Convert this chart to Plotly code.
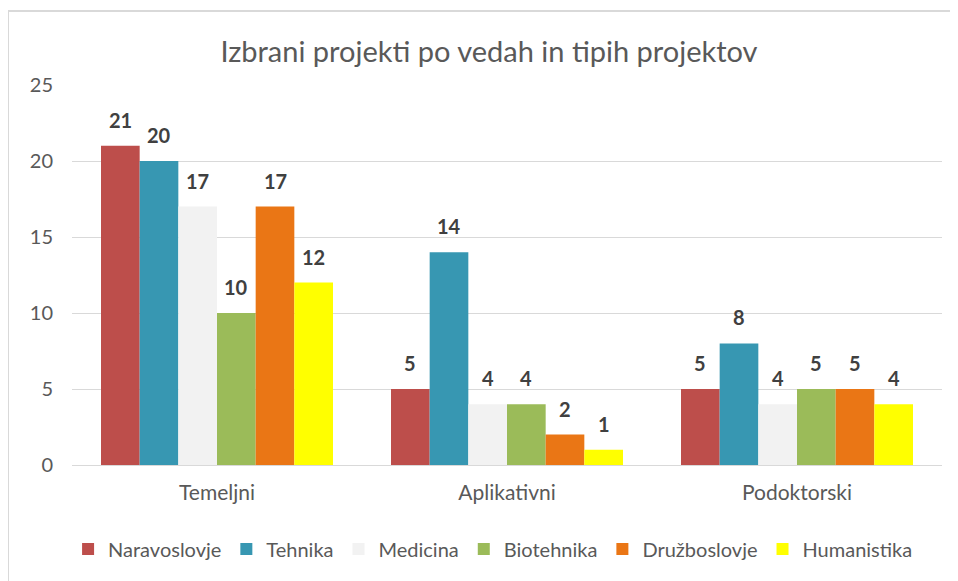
import plotly.graph_objects as go

categories = ["Temeljni", "Aplikativni", "Podoktorski"]
series_names = ["Naravoslovje", "Tehnika", "Medicina", "Biotehnika", "Družboslovje", "Humanistika"]
naravoslovje = [21, 5, 5]
tehnika = [20, 14, 8]
medicina = [17, 4, 4]
biotehnika = [10, 4, 5]
druzboslovje = [17, 2, 5]
humanistika = [12, 1, 4]
values = [naravoslovje, tehnika, medicina, biotehnika, druzboslovje, humanistika]
colors = ["#bd4e4b", "#3797b2", "#f2f2f2", "#9bbb59", "#ea7615", "#ffff00"]

FONT = "Lato"
GREY = "#595959"

W, H = 950, 573
ML, MR, MT, MB = 64, 16, 77, 116
PLOT_W = W - ML - MR
PLOT_H = H - MT - MB
BARGAP = 0.2
n = len(series_names)
bar_px = PLOT_W / len(categories) * (1 - BARGAP) / n

fig = go.Figure()
annotations = []
for i, (name, vals, col) in enumerate(zip(series_names, values, colors)):
    fig.add_trace(go.Bar(
        name=name, x=categories, y=vals,
        marker=dict(color=col, line=dict(width=0)),
    ))
    for c, v in zip(categories, vals):
        annotations.append(dict(
            x=c, y=v, xref="x", yref="y", text=f"<b>{v}</b>", showarrow=False,
            xshift=(i - (n - 1) / 2) * bar_px, yshift=26, yanchor="middle", xanchor="center",
            font=dict(family=FONT, size=20, color="#404040"),
        ))

left = (0 - ML) / PLOT_W
top = (MT + PLOT_H - 3) / PLOT_H
bottom = (MT + PLOT_H - H - 20) / PLOT_H
right = (W + 20 - ML) / PLOT_W

fig.update_layout(
    width=W, height=H,
    paper_bgcolor="white", plot_bgcolor="white",
    margin=dict(l=ML, r=MR, t=MT, b=MB),
    barmode="group", bargap=BARGAP, bargroupgap=0,
    title=dict(text="Izbrani projekti po vedah in tipih projektov",
               x=481 / W, xanchor="center", y=1 - 44 / H, yanchor="middle",
               font=dict(family=FONT, size=29, color=GREY)),
    font=dict(family=FONT, color=GREY, size=20),
    showlegend=True,
    legend=dict(orientation="h", x=0.484, xanchor="center", y=-0.221, yanchor="middle",
                font=dict(family=FONT, size=20, color=GREY), itemwidth=30,
                traceorder="normal"),
    yaxis=dict(range=[0, 25], dtick=5, showgrid=True, gridcolor="#d9d9d9", gridwidth=1,
               zeroline=True, zerolinecolor="#d9d9d9", zerolinewidth=1,
               tickfont=dict(family=FONT, size=20, color=GREY), ticks="", ticklabelstandoff=18),
    xaxis=dict(showgrid=False, showline=False, ticks="", ticklabelstandoff=13,
               tickfont=dict(family=FONT, size=21, color=GREY)),
    annotations=annotations,
    shapes=[
        dict(type="line", xref="paper", yref="paper", x0=left, x1=left, y0=bottom, y1=top,
             line=dict(color="#d9d9d9", width=2), layer="below"),
        dict(type="line", xref="paper", yref="paper", x0=left, x1=right, y0=top, y1=top,
             line=dict(color="#d9d9d9", width=2), layer="below"),
    ],
)

fig.write_html("out.html")
